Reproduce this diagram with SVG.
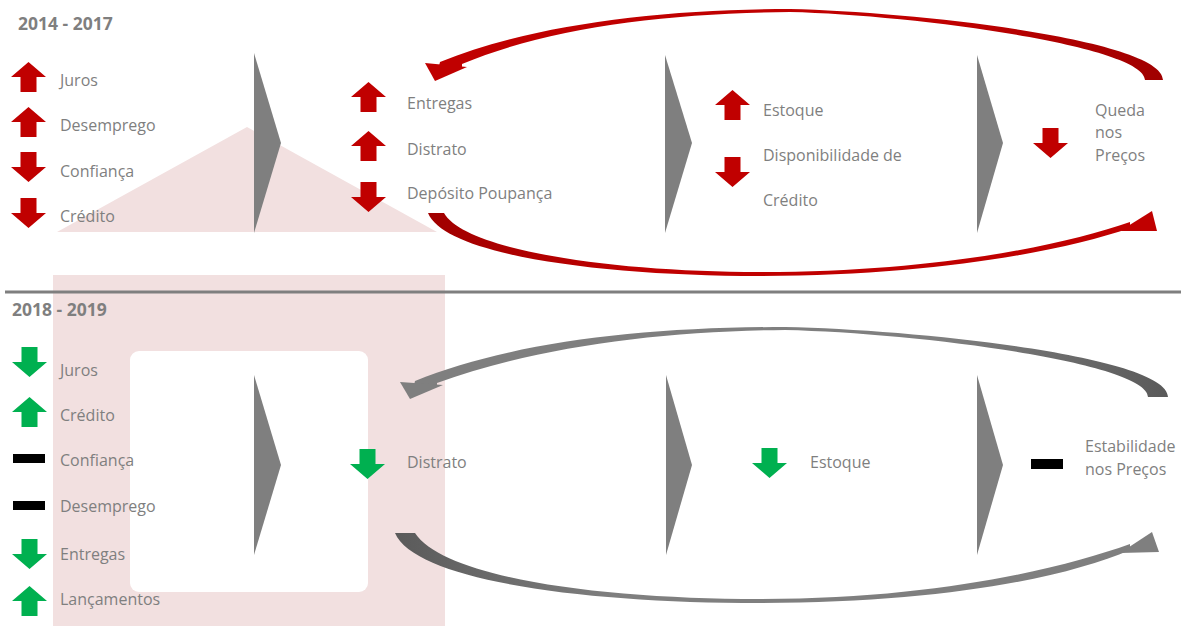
<svg xmlns="http://www.w3.org/2000/svg" xmlns:xlink="http://www.w3.org/1999/xlink" width="1181" height="626" viewBox="0 0 1181 626">
<style>
.t{font-family:"Open Sans","Liberation Sans",sans-serif;font-size:16px;fill:#7f7f7f}
.h{font-family:"Open Sans","Liberation Sans",sans-serif;font-size:17.5px;font-weight:700;fill:#7f7f7f}
.red{fill:#c00000}
.grn{fill:#00b050}
.blk{fill:#000000}
.chev{fill:#7f7f7f}
.pink{fill:#f2e0e0}
</style>
<defs>
<path id="up" d="M17.5,0 L35,15 L25.5,15 L25.5,30 L9.5,30 L9.5,15 L0,15 Z"/>
<path id="down" d="M9.5,0 L25.5,0 L25.5,15 L35,15 L17.5,30 L0,15 L9.5,15 Z"/>
<linearGradient id="gRedTop" x1="0" y1="0" x2="1" y2="0"><stop offset="0" stop-color="#c00000"/><stop offset="0.7" stop-color="#c00000"/><stop offset="1" stop-color="#a00000"/></linearGradient>
<linearGradient id="gRedBot" x1="0" y1="0" x2="1" y2="0"><stop offset="0" stop-color="#a00000"/><stop offset="0.3" stop-color="#c00000"/><stop offset="1" stop-color="#c00000"/></linearGradient>
<linearGradient id="gGrayTop" x1="0" y1="0" x2="1" y2="0"><stop offset="0" stop-color="#7f7f7f"/><stop offset="0.7" stop-color="#7f7f7f"/><stop offset="1" stop-color="#5a5a5a"/></linearGradient>
<linearGradient id="gGrayBot" x1="0" y1="0" x2="1" y2="0"><stop offset="0" stop-color="#5a5a5a"/><stop offset="0.3" stop-color="#7f7f7f"/><stop offset="1" stop-color="#7f7f7f"/></linearGradient>
</defs>
<rect width="1181" height="626" fill="#ffffff"/>
<g id="background-house">
<polygon class="pink" points="57,232 247,127 437,232"/>
<rect class="pink" x="53" y="275" width="392" height="351"/>
<rect x="130" y="351" width="238" height="241" rx="9" fill="#ffffff"/>
</g>
<line id="divider" x1="5" y1="292" x2="1181" y2="292" stroke="#7f7f7f" stroke-width="3"/>
<g id="title-2014-2017"><text class="h" x="18" y="30">2014 - 2017</text></g>
<g id="title-2018-2019"><text class="h" x="12" y="316">2018 - 2019</text></g>

<g id="top-causes">
<use href="#up" class="red" x="11" y="62"/><text class="t" x="60" y="86">Juros</text>
<use href="#up" class="red" x="11" y="107"/><text class="t" x="60" y="131">Desemprego</text>
<use href="#down" class="red" x="11" y="152"/><text class="t" x="60" y="177">Confiança</text>
<use href="#down" class="red" x="11" y="198"/><text class="t" x="60" y="222">Crédito</text>
</g>
<g id="top-effects">
<use href="#up" class="red" x="351" y="82"/><text class="t" x="407" y="109">Entregas</text>
<use href="#up" class="red" x="351" y="131"/><text class="t" x="407" y="155">Distrato</text>
<use href="#down" class="red" x="351" y="182"/><text class="t" x="407" y="199">Depósito Poupança</text>
</g>
<g id="top-stock">
<use href="#up" class="red" x="715" y="90"/><text class="t" x="763" y="116">Estoque</text>
<use href="#down" class="red" x="715" y="157"/><text class="t" x="763" y="161">Disponibilidade de</text>
<text class="t" x="763" y="206">Crédito</text>
</g>
<g id="top-prices">
<use href="#down" class="red" x="1033" y="128"/>
<text class="t" x="1095" y="116">Queda</text>
<text class="t" x="1095" y="138">nos</text>
<text class="t" x="1095" y="161">Preços</text>
</g>

<g id="bottom-causes">
<use href="#down" class="grn" x="12" y="347"/><text class="t" x="60" y="376">Juros</text>
<use href="#up" class="grn" x="12" y="397"/><text class="t" x="60" y="421">Crédito</text>
<rect class="blk" x="13" y="454" width="32" height="9"/><text class="t" x="60" y="466">Confiança</text>
<rect class="blk" x="13" y="501" width="32" height="9"/><text class="t" x="60" y="512">Desemprego</text>
<use href="#down" class="grn" x="12" y="539"/><text class="t" x="60" y="560">Entregas</text>
<use href="#up" class="grn" x="12" y="586"/><text class="t" x="60" y="605">Lançamentos</text>
</g>
<g id="bottom-effects">
<use href="#down" class="grn" x="350" y="449"/><text class="t" x="407" y="468">Distrato</text>
</g>
<g id="bottom-stock">
<use href="#down" class="grn" x="752" y="448"/><text class="t" x="810" y="468">Estoque</text>
</g>
<g id="bottom-prices">
<rect class="blk" x="1031" y="459" width="32" height="10"/>
<text class="t" x="1085" y="452">Estabilidade</text>
<text class="t" x="1085" y="475">nos Preços</text>
</g>

<g id="connectors">
<polygon class="chev" points="254,53 281,143 254,233"/>
<polygon class="chev" points="665,55 692,143 665,233"/>
<polygon class="chev" points="977,55 1003,143 977,233"/>
<polygon class="chev" points="254,375 281,465 254,555"/>
<polygon class="chev" points="666,375 692,465 666,555"/>
<polygon class="chev" points="977,375 1003,465 977,555"/>

<path fill="url(#gRedTop)" d="M439,66 L440,62 C530,25 660,9 790,9 C920,12 1163,40 1163,80 L1145,80 C1145,46 915,15 790,12 C665,13 548,28 462,64 L462,68 Z"/>
<polygon class="red" points="425,63 435,81 467,67"/>
<path fill="url(#gRedBot)" d="M428,213 C445,255 600,276 760,276 C930,276 1060,252 1130,228 L1130,222 C1058,247 930,272 760,272 C610,272 465,250 444,213 Z"/>
<polygon class="red" points="1120,231 1152,211 1157,231"/>

<path fill="url(#gGrayTop)" d="M414,385 L415,381 C505,344 635,327 785,327 C925,330 1168,357 1168,397 L1148,397 C1148,363 920,333 785,330 C658,331 533,348 437,383 L437,387 Z"/>
<polygon class="chev" points="400,382 410,399 443,385"/>
<path fill="url(#gGrayBot)" d="M395,533 C415,580 580,603 760,603 C940,603 1065,578 1130,550 L1130,544 C1060,569 935,599 760,599 C600,599 445,578 415,533 Z"/>
<polygon class="chev" points="1120,553 1152,532 1159,552"/>
</g>
</svg>
